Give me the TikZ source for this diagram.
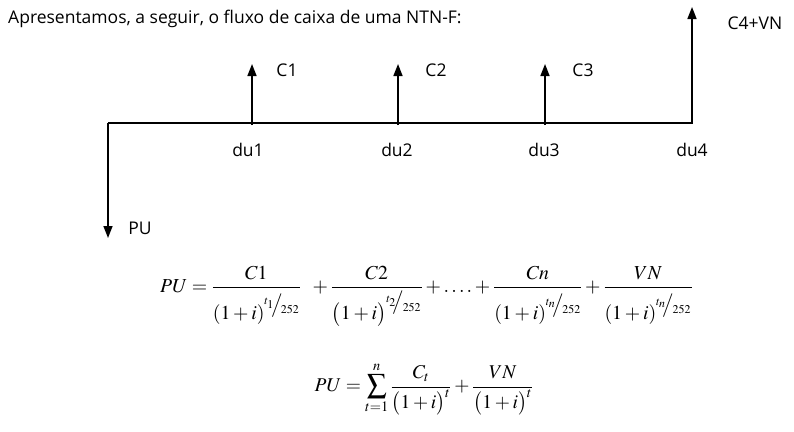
\documentclass[tikz,border=0pt]{standalone}
\usepackage{amsmath}
\usepackage{mathptmx}
\usepackage[no-math]{fontspec}
\setmainfont{Open Sans}
\usetikzlibrary{arrows.meta}
\newcommand{\mysfrac}[2]{{}^{#1}\!\!\big/\!{}_{#2}}
\newcommand{\dstrut}{\rule{0pt}{1.45em}}
\tikzset{
  flow/.style={line width=1.6pt,-{Triangle[length=12pt,width=9pt]}},
  lbl/.style={font=\fontsize{17.5}{20}\selectfont,inner sep=0pt},
  eq/.style={inner sep=0pt}
}
\begin{document}
\begin{tikzpicture}[x=1pt,y=-1pt]
\useasboundingbox (0,0) rectangle (794,431);
\node[lbl,anchor=west] (title) at (8,19) {Apresentamos, a seguir, o fluxo de caixa de uma NTN-F:};
% timeline
\coordinate (L) at (108,123);
\coordinate (R) at (692,123);
\coordinate (P1) at (252,123);
\coordinate (P2) at (398,123);
\coordinate (P3) at (545,123);
\coordinate (Ltip) at (108,238);
\coordinate (Rtip) at (692,7);
\coordinate (T1) at (252,64);
\coordinate (T2) at (398,64);
\coordinate (T3) at (545,64);
\draw[flow,line join=miter] (L) -- (R) -- (Rtip);
\draw[flow] (L) -- (Ltip);
\draw[flow] ([yshift=-2pt]P1) -- (T1);
\draw[flow] ([yshift=-2pt]P2) -- (T2);
\draw[flow] ([yshift=-2pt]P3) -- (T3);
\node[lbl] (c1) at (287,70) {C1};
\node[lbl] (c2) at (436,70) {C2};
\node[lbl] (c3) at (583,70) {C3};
\node[lbl] (c4) at (755,23) {C4+VN};
\node[lbl] (du1) at (248,150) {du1};
\node[lbl] (du2) at (397,150) {du2};
\node[lbl] (du3) at (544,150) {du3};
\node[lbl] (du4) at (692,150) {du4};
\node[lbl] (pu) at (140,228) {PU};
% formulas
\node[eq,anchor=west] (f1) at (160,296) {\fontsize{19.8}{24}\selectfont$PU=\dfrac{C1}{\dstrut(1+i)^{\mysfrac{t_1}{252}}}\;\;+\dfrac{C2}{\dstrut\bigl(1+i\bigr)^{\mysfrac{t_2}{252}}}+\ldots.+\dfrac{Cn}{\dstrut(1+i)^{\mysfrac{t_n}{252}}}+\dfrac{VN}{\dstrut(1+i)^{\mysfrac{t_n}{252}}}$};
\node[eq] (f2) at (424,389) {\fontsize{19.5}{23}\selectfont$PU=\displaystyle\sum_{t=1}^{n}\frac{C_t}{\bigl(1+i\bigr)^t}+\frac{VN}{\bigl(1+i\bigr)^t}$};
\end{tikzpicture}
\end{document}
